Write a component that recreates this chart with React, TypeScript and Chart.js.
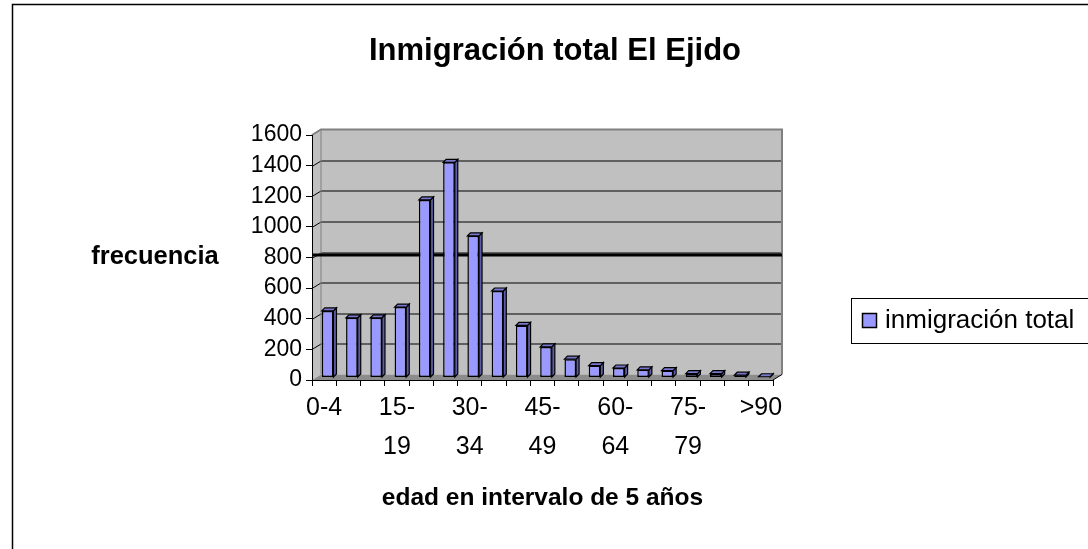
import { useEffect, useRef } from "react";
import { Chart, registerables } from "chart.js";

Chart.register(...registerables);

const FONT = "'Liberation Sans', Arial, sans-serif";

const titleText = "Inmigración total El Ejido";
const xTitle = "edad en intervalo de 5 años";
const yTitle = "frecuencia";
const seriesLabel = "inmigración total";

const categories = [
  "0-4", "5-9", "10-14", "15-19", "20-24", "25-29", "30-34", "35-39", "40-44",
  "45-49", "50-54", "55-59", "60-64", "65-69", "70-74", "75-79", "80-84", "85-89", ">90",
];
const values = [435, 390, 390, 460, 1160, 1405, 925, 565, 340, 200, 120, 78, 62, 50, 45, 25, 25, 15, 5];

const yMin = 0;
const yMax = 1600;
const yStep = 200;
const referenceLine = 800;

const BAR_COLOR = "#9999ff";
const SIDE_COLOR = "#5c5ca8";
const TOP_COLOR = "#7777cc";
const WALL = "#c0c0c0";
const FLOOR = "#8c8c8c";
const EDGE = "#808080";
const DX = 9;
const DY = -5.5;
const BAR_D = 3;

function xLabel(label: string, i: number): string | string[] {
  if (i % 3 !== 0) return "";
  if (label.length > 3 && label.includes("-")) {
    const k = label.indexOf("-");
    return [label.slice(0, k + 1), label.slice(k + 1)];
  }
  return label;
}

const wallsPlugin = {
  id: "walls",
  beforeDraw(chart: any) {
    const { ctx, chartArea } = chart;
    const y = chart.scales.y;
    const L = chartArea.left, R = chartArea.right, T = chartArea.top, B = chartArea.bottom;
    ctx.save();
    ctx.fillStyle = "#ffffff";
    ctx.fillRect(0, 0, chart.width, chart.height);
    // back wall
    ctx.fillStyle = WALL;
    ctx.fillRect(L + DX, T + DY, R + DX - (L + DX), B - T);
    // left wall
    ctx.beginPath();
    ctx.moveTo(L, T);
    ctx.lineTo(L + DX, T + DY);
    ctx.lineTo(L + DX, B + DY);
    ctx.lineTo(L, B);
    ctx.closePath();
    ctx.fill();
    // floor
    ctx.fillStyle = FLOOR;
    ctx.beginPath();
    ctx.moveTo(L, B);
    ctx.lineTo(R, B);
    ctx.lineTo(R + DX, B + DY);
    ctx.lineTo(L + DX, B + DY);
    ctx.closePath();
    ctx.fill();
    // grid lines
    ctx.strokeStyle = "#000";
    ctx.lineWidth = 1;
    for (let v = yMin + yStep; v < yMax; v += yStep) {
      const py = Math.round(y.getPixelForValue(v)) + 0.5;
      ctx.beginPath();
      ctx.moveTo(L, py);
      ctx.lineTo(L + DX, py + DY);
      ctx.lineTo(R + DX, py + DY);
      ctx.stroke();
    }
    // wall edges
    ctx.strokeStyle = EDGE;
    ctx.lineWidth = 2;
    ctx.beginPath();
    ctx.moveTo(L, T);
    ctx.lineTo(L + DX, T + DY);
    ctx.lineTo(R + DX, T + DY);
    ctx.lineTo(R + DX, B + DY);
    ctx.stroke();
    ctx.lineWidth = 1;
    ctx.beginPath();
    ctx.moveTo(L + DX, T + DY);
    ctx.lineTo(L + DX, B + DY);
    ctx.stroke();
    ctx.strokeStyle = "#000";
    ctx.beginPath();
    ctx.moveTo(R, B);
    ctx.lineTo(R + DX, B + DY);
    ctx.stroke();
    ctx.restore();
  },
  beforeDatasetsDraw(chart: any) {
    const { ctx, chartArea } = chart;
    const y = chart.scales.y;
    const py = y.getPixelForValue(referenceLine) - 2.5;
    ctx.save();
    ctx.strokeStyle = "#000";
    ctx.lineWidth = 3;
    ctx.beginPath();
    ctx.moveTo(chartArea.left, py);
    ctx.lineTo(chartArea.right + DX, py);
    ctx.stroke();
    ctx.restore();
    ctx.save();
    ctx.translate(3.5, -2.5);
  },
  afterDatasetsDraw(chart: any) {
    const { ctx } = chart;
    const meta = chart.getDatasetMeta(0);
    ctx.lineWidth = 1.2;
    ctx.strokeStyle = "#000";
    meta.data.forEach((bar: any) => {
      const { x, y, width, base } = bar.getProps(["x", "y", "width", "base"], true);
      const l = x - width / 2, r = x + width / 2;
      ctx.fillStyle = SIDE_COLOR;
      ctx.beginPath();
      ctx.moveTo(r, y);
      ctx.lineTo(r + BAR_D, y - BAR_D);
      ctx.lineTo(r + BAR_D, base - BAR_D);
      ctx.lineTo(r, base);
      ctx.closePath();
      ctx.fill();
      ctx.stroke();
      ctx.fillStyle = TOP_COLOR;
      ctx.beginPath();
      ctx.moveTo(l, y);
      ctx.lineTo(l + BAR_D, y - BAR_D);
      ctx.lineTo(r + BAR_D, y - BAR_D);
      ctx.lineTo(r, y);
      ctx.closePath();
      ctx.fill();
      ctx.stroke();
    });
    ctx.restore();
  },
  afterDraw(chart: any) {
    const { ctx } = chart;
    ctx.save();
    // chart title
    ctx.fillStyle = "#000";
    ctx.font = `bold 31px ${FONT}`;
    ctx.textAlign = "center";
    ctx.textBaseline = "middle";
    ctx.fillText(titleText, 555, 51);
    // y axis title (horizontal)
    ctx.font = `bold 25.5px ${FONT}`;
    ctx.fillText(yTitle, 155, 257);
    // legend
    ctx.fillStyle = "#fff";
    ctx.fillRect(851.5, 298.5, 300, 45);
    ctx.strokeStyle = "#000";
    ctx.lineWidth = 1;
    ctx.strokeRect(851.5, 298.5, 300, 45);
    ctx.fillStyle = BAR_COLOR;
    ctx.fillRect(862.5, 313.5, 14, 14);
    ctx.lineWidth = 1.5;
    ctx.strokeRect(862.5, 313.5, 14, 14);
    ctx.fillStyle = "#000";
    ctx.font = `26px ${FONT}`;
    ctx.textAlign = "left";
    ctx.textBaseline = "middle";
    ctx.fillText(seriesLabel, 885, 321);
    // outer frame
    ctx.lineWidth = 1.5;
    ctx.strokeStyle = "#000";
    ctx.beginPath();
    ctx.moveTo(12.5, chart.height);
    ctx.lineTo(12.5, 4.5);
    ctx.lineTo(chart.width, 4.5);
    ctx.stroke();
    ctx.restore();
  },
};

export default function App() {
  const ref = useRef<HTMLCanvasElement | null>(null);

  useEffect(() => {
    if (!ref.current) return;
    Chart.defaults.font.family = FONT;
    const chart = new Chart(ref.current, {
      type: "bar",
      data: {
        labels: categories,
        datasets: [
          {
            label: seriesLabel,
            data: values,
            backgroundColor: BAR_COLOR,
            borderColor: "#000",
            borderWidth: 1.5,
            borderSkipped: false,
            barPercentage: 0.48,
            categoryPercentage: 1,
          },
        ],
      },
      options: {
        responsive: false,
        animation: false,
        events: [],
        layout: { padding: { left: 0, right: 315, top: 135, bottom: 0 } },
        plugins: {
          legend: { display: false },
          tooltip: { enabled: false },
          title: { display: false },
        },
        scales: {
          x: {
            grid: {
              display: true,
              drawOnChartArea: false,
              drawTicks: true,
              tickLength: 6,
              offset: true,
              color: "#000",
              lineWidth: 1,
            },
            border: { display: true, color: "#000", width: 1 },
            ticks: {
              autoSkip: false,
              maxRotation: 0,
              minRotation: 0,
              padding: 3,
              color: "#000",
              font: { family: FONT, size: 25, lineHeight: 1.55 },
              callback: (_v: any, i: number) => xLabel(categories[i], i),
            },
            title: {
              display: true,
              text: xTitle,
              color: "#000",
              font: { family: FONT, size: 24.5, weight: "bold", lineHeight: 1.2 },
              padding: { top: 0, bottom: 36 },
            },
            afterFit: (s: any) => {
              s.height = 169;
            },
          },
          y: {
            min: yMin,
            max: yMax,
            grid: {
              display: true,
              drawOnChartArea: false,
              drawTicks: true,
              tickLength: 6,
              color: "#000",
            },
            border: { display: true, color: "#000", width: 1 },
            ticks: {
              stepSize: yStep,
              padding: 4,
              color: "#000",
              font: { family: FONT, size: 23 },
              callback: (v: any) => String(v),
            },
            afterFit: (s: any) => {
              s.width = 312;
            },
          },
        },
      },
      plugins: [wallsPlugin],
    });
    return () => chart.destroy();
  }, []);

  return (
    <div style={{ position: "absolute", left: 0, top: 0, width: 1088, height: 549 }}>
      <canvas ref={ref} width={1088} height={549} style={{ display: "block" }} />
    </div>
  );
}
